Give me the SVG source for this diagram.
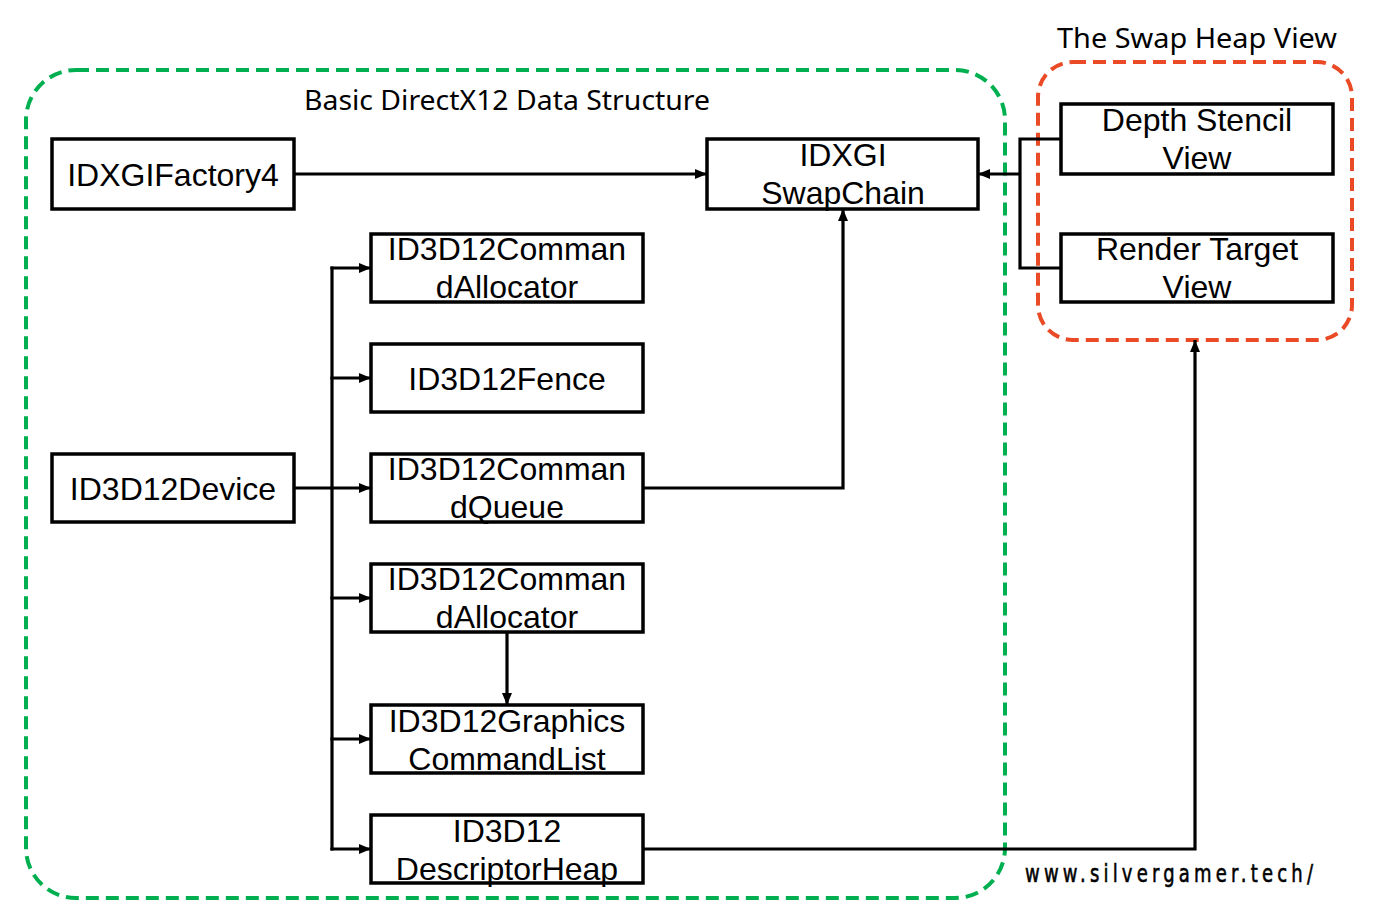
<svg xmlns="http://www.w3.org/2000/svg" width="1390" height="919" viewBox="0 0 1390 919">
<style>
.box{fill:#fff;stroke:#000;stroke-width:3.5}
.t{font-family:"Liberation Sans",Arial,sans-serif;font-size:32px;fill:#000;text-anchor:middle}
.title{font-family:"Noto Sans","Open Sans",sans-serif;font-size:27px;fill:#000}
.c{fill:none;stroke:#000;stroke-width:3.2}
</style>
<defs>
<marker id="ah" viewBox="0 0 12 10" refX="12" refY="5" markerWidth="12" markerHeight="10" markerUnits="userSpaceOnUse" orient="auto">
<path d="M0,0 L12,5 L0,10 z" fill="#000"/>
</marker>
</defs>
<rect width="1390" height="919" fill="#fff"/>
<g id="group-basic">
<rect x="26" y="70" width="979" height="828" rx="50" fill="none" stroke="#00B050" stroke-width="4" stroke-dasharray="13 7"/>
<text class="title" x="304" y="110" textLength="406" lengthAdjust="spacingAndGlyphs">Basic DirectX12 Data Structure</text>
</g>
<g id="group-swapheap">
<rect x="1038" y="62" width="314" height="278" rx="35" fill="none" stroke="#EA4B26" stroke-width="4" stroke-dasharray="13 7"/>
<text class="title" x="1057" y="48" textLength="280" lengthAdjust="spacingAndGlyphs">The Swap Heap View</text>
</g>
<g id="connectors">
<line class="c" x1="294" y1="174" x2="707" y2="174" marker-end="url(#ah)"/>
<line class="c" x1="294" y1="488" x2="332" y2="488"/>
<line class="c" x1="332" y1="266.4" x2="332" y2="850.6"/>
<line class="c" x1="330.4" y1="268" x2="371" y2="268" marker-end="url(#ah)"/>
<line class="c" x1="330.4" y1="378" x2="371" y2="378" marker-end="url(#ah)"/>
<line class="c" x1="330.4" y1="488" x2="371" y2="488" marker-end="url(#ah)"/>
<line class="c" x1="330.4" y1="598" x2="371" y2="598" marker-end="url(#ah)"/>
<line class="c" x1="330.4" y1="739" x2="371" y2="739" marker-end="url(#ah)"/>
<line class="c" x1="330.4" y1="849" x2="371" y2="849" marker-end="url(#ah)"/>
<polyline class="c" points="643,488 843,488 843,209" marker-end="url(#ah)"/>
<line class="c" x1="507" y1="632" x2="507" y2="705" marker-end="url(#ah)"/>
<polyline class="c" points="643,849 1195,849 1195,340" marker-end="url(#ah)"/>
<polyline class="c" points="1061,139 1020,139 1020,268 1061,268"/>
<line class="c" x1="1020" y1="174" x2="978" y2="174" marker-end="url(#ah)"/>
</g>
<g id="node-factory">
<rect class="box" x="52" y="139" width="242" height="70"/>
<text class="t" x="173" y="186">IDXGIFactory4</text>
</g>
<g id="node-swapchain">
<rect class="box" x="707" y="139" width="271" height="70"/>
<text class="t" x="843" y="166">IDXGI</text>
<text class="t" x="843" y="204">SwapChain</text>
</g>
<g id="node-depthstencil">
<rect class="box" x="1061" y="104" width="272" height="70"/>
<text class="t" x="1197" y="131">Depth Stencil</text>
<text class="t" x="1197" y="169">View</text>
</g>
<g id="node-rendertarget">
<rect class="box" x="1061" y="234" width="272" height="68"/>
<text class="t" x="1197" y="260">Render Target</text>
<text class="t" x="1197" y="298">View</text>
</g>
<g id="node-device">
<rect class="box" x="52" y="454" width="242" height="68"/>
<text class="t" x="173" y="500">ID3D12Device</text>
</g>
<g id="node-allocator1">
<rect class="box" x="371" y="234" width="272" height="68"/>
<text class="t" x="507" y="260">ID3D12Comman</text>
<text class="t" x="507" y="298">dAllocator</text>
</g>
<g id="node-fence">
<rect class="box" x="371" y="344" width="272" height="68"/>
<text class="t" x="507" y="390">ID3D12Fence</text>
</g>
<g id="node-queue">
<rect class="box" x="371" y="454" width="272" height="68"/>
<text class="t" x="507" y="480">ID3D12Comman</text>
<text class="t" x="507" y="518">dQueue</text>
</g>
<g id="node-allocator2">
<rect class="box" x="371" y="564" width="272" height="68"/>
<text class="t" x="507" y="590">ID3D12Comman</text>
<text class="t" x="507" y="628">dAllocator</text>
</g>
<g id="node-cmdlist">
<rect class="box" x="371" y="705" width="272" height="68"/>
<text class="t" x="507" y="732">ID3D12Graphics</text>
<text class="t" x="507" y="770">CommandList</text>
</g>
<g id="node-descheap">
<rect class="box" x="371" y="815" width="272" height="68"/>
<text class="t" x="507" y="842">ID3D12</text>
<text class="t" x="507" y="880">DescriptorHeap</text>
</g>
<text transform="translate(1025,882) scale(0.75,1)" x="0" y="0" font-family="'DejaVu Sans',sans-serif" font-size="24" fill="#000" stroke="#000" stroke-width="0.6" textLength="384" lengthAdjust="spacing">www.silvergamer.tech/</text>
</svg>
